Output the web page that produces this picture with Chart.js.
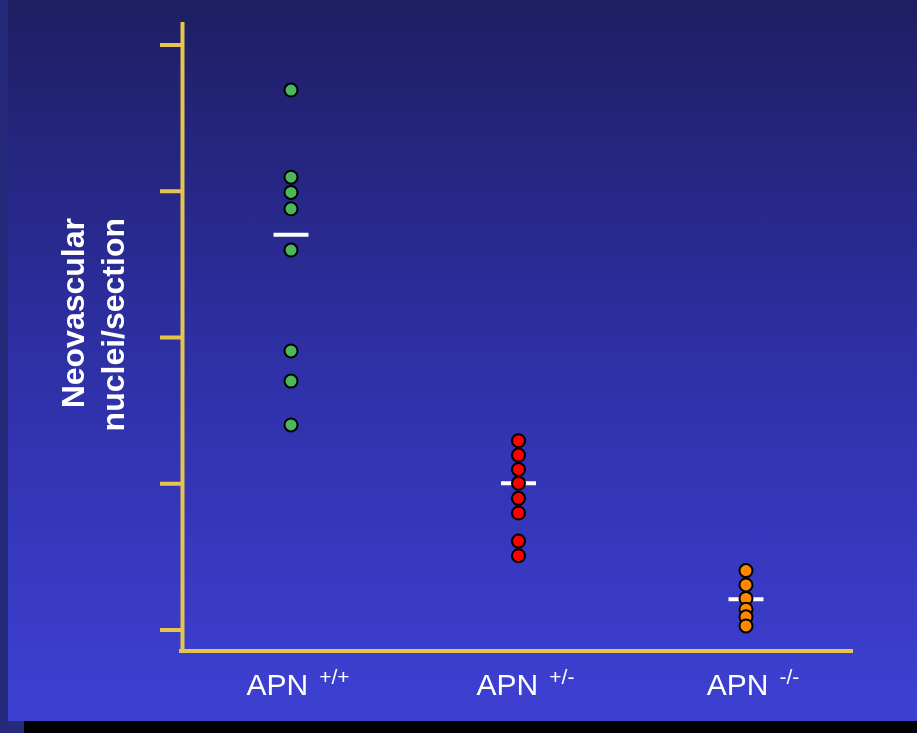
<!DOCTYPE html>
<html>
<head>
<meta charset="utf-8">
<script src="https://cdn.jsdelivr.net/npm/chart.js@4.4.1/dist/chart.umd.min.js"></script>
<style>
  html, body { margin: 0; padding: 0; background: #000; overflow: hidden; width: 917px; height: 733px; }
  #slide {
    position: absolute; left: 0; top: 0; width: 917px; height: 721px;
    background: linear-gradient(to bottom, #1e1e62 0%, #2e30a6 50%, #3e40d4 100%);
  }
  #strip { position: absolute; left: 0; top: 0; width: 8px; height: 733px; background: #262a7a; }
  #stripFoot { position: absolute; left: 0; top: 721px; width: 24px; height: 12px; background: #262a7a; }
  #wrap { position: absolute; left: 0; top: 0; width: 917px; height: 721px; }
</style>
</head>
<body>
<div id="slide"></div>
<div id="strip"></div>
<div id="stripFoot"></div>
<div id="wrap"><canvas id="scatterChart"></canvas></div>
<script>
// groups along the x axis (positions 1, 2, 3)
const categories = ['APN', 'APN', 'APN'];
const genotypes = ['+/+', '+/-', '-/-'];
const yTicks = [0, 50, 100, 150, 200];

// individual animals
const wildType = [184.6, 154.8, 149.6, 144.0, 129.9, 95.4, 85.1, 70.1];
const hetero = [64.7, 59.8, 54.9, 50.2, 45.0, 40.0, 30.4, 25.4];
const knockout = [20.3, 15.4, 10.8, 7.1, 4.5, 1.4];

// group means (white bars)
const means = [135.1, 50.2, 10.5];

const axisColor = '#e6c54c';

function toPoints(arr, xPos) {
  return arr.map(function (v) { return { x: xPos, y: v }; });
}

// draws the yellow axes, tick marks, category labels and y title
const slideAxes = {
  id: 'slideAxes',
  afterDraw: function (chart) {
    const c = chart.ctx;
    const area = chart.chartArea;
    const xs = chart.scales.x;
    const ys = chart.scales.y;
    c.save();
    c.fillStyle = axisColor;
    c.fillRect(area.left - 1.5, area.top, 4, area.bottom - area.top + 2);
    c.fillRect(area.left - 3, area.bottom - 2, area.right - area.left + 4, 4);
    yTicks.forEach(function (t) {
      const py = ys.getPixelForValue(t);
      c.fillRect(area.left - 22, py - 2, 21, 4);
    });

    c.fillStyle = '#ffffff';
    c.textBaseline = 'alphabetic';
    categories.forEach(function (cat, i) {
      c.font = '30px "Liberation Sans", Arial, sans-serif';
      const w1 = c.measureText(cat).width;
      c.font = '21px "Liberation Sans", Arial, sans-serif';
      const w2 = c.measureText(genotypes[i]).width;
      const gap = 11;
      const total = w1 + gap + w2;
      const left = xs.getPixelForValue(i + 1) + 7 - total / 2;
      c.font = '30px "Liberation Sans", Arial, sans-serif';
      c.textAlign = 'left';
      c.fillText(cat, left, 695);
      c.font = '21px "Liberation Sans", Arial, sans-serif';
      c.fillText(genotypes[i], left + w1 + gap, 684);
    });

    c.font = 'bold 32px "Liberation Sans", Arial, sans-serif';
    c.textAlign = 'right';
    c.textBaseline = 'alphabetic';
    [['Neovascular', 84], ['nuclei/section', 124]].forEach(function (line) {
      c.save();
      c.translate(line[1], 218);
      c.rotate(-Math.PI / 2);
      c.fillText(line[0], 0, 0);
      c.restore();
    });
    c.restore();
  }
};

function scatterChart() {
  const ctx = document.getElementById('scatterChart').getContext('2d');

  const dotStyle = function (color) {
    return {
      backgroundColor: color,
      borderColor: '#000000',
      borderWidth: 2,
      pointRadius: 6.5,
      pointHoverRadius: 6.5,
      order: 1
    };
  };

  const data = {
    datasets: [
      Object.assign({ data: toPoints(wildType, 1) }, dotStyle('#4cb85c')),
      Object.assign({ data: toPoints(hetero, 2) }, dotStyle('#ff0000')),
      Object.assign({ data: toPoints(knockout, 3) }, dotStyle('#ff8800')),
      {
        data: means.map(function (m, i) { return { x: i + 1, y: m }; }),
        pointStyle: 'line',
        pointRadius: 17.5,
        pointHoverRadius: 17.5,
        borderColor: '#ffffff',
        borderWidth: 4,
        order: 2
      }
    ]
  };

  const config = {
    type: 'scatter',
    data: data,
    options: {
      animation: false,
      responsive: true,
      maintainAspectRatio: false,
      layout: {
        padding: { left: 182, right: 65, top: 22, bottom: 70 }
      },
      plugins: {
        legend: { display: false },
        tooltip: { enabled: false }
      },
      scales: {
        x: { type: 'linear', min: 0.5209, max: 3.466, display: false },
        y: { type: 'linear', min: -7.18, max: 207.86, display: false }
      }
    },
    plugins: [slideAxes]
  };
  const myChart = new Chart(ctx, config);
}

scatterChart();
</script>
</body>
</html>
